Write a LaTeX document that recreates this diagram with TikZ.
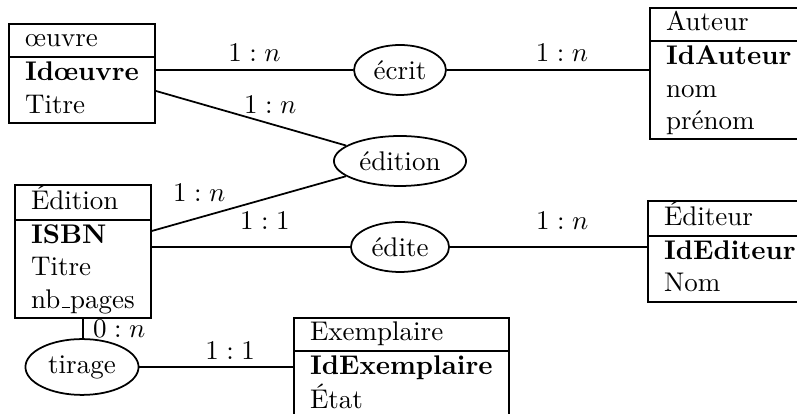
\documentclass[tikz,border=0pt]{standalone}
\usetikzlibrary{shapes.geometric,calc}
\setlength{\arrayrulewidth}{0.65pt}
\newcommand{\ulbar}{\leavevmode\kern.06em\vbox{\hrule width.3em}}
\begin{document}
\begin{tikzpicture}[x=0.37037pt,y=-0.37037pt, line width=0.65pt,
  entity/.style={draw, inner sep=0pt, anchor=north west},
  relation/.style={draw, ellipse, inner xsep=2.3pt, inner ysep=3pt},
  card/.style={inner sep=0pt}]
\useasboundingbox (0,0) rectangle (797,414);
\clip (0,0) rectangle (797,414);
% entities
\node[entity] (boeuvre) at (8,23) {\begin{tabular}{l}œuvre\\\hline\textbf{Idœuvre}\\Titre\end{tabular}};
\node[entity] (bauteur) at (649,7) {\begin{tabular}{l}Auteur\\\hline\textbf{IdAuteur}\\nom\\prénom\end{tabular}};
\node[entity] (bedition) at (14,184) {\begin{tabular}{l}Édition\\\hline\textbf{ISBN}\\Titre\\nb\ulbar pages\end{tabular}};
\node[entity] (bediteur) at (647,200) {\begin{tabular}{l}Éditeur\\\hline\textbf{IdEditeur}\\Nom\end{tabular}};
\node[entity] (bexemplaire) at (293,317) {\begin{tabular}{l}Exemplaire\\\hline\textbf{IdExemplaire}\\État\\ \end{tabular}};
% relations
\node[relation] (recrit) at (400,70) {écrit};
\node[relation] (redition) at (400,161) {édition};
\node[relation] (redite) at (400,247) {édite};
\node[relation] (rtirage) at (82,367) {tirage};
% connectors
\draw (boeuvre.east |- recrit.west) -- (recrit.west)
  node[card, midway, above=3pt] {$1:n$};
\draw (recrit.east) -- (recrit.east -| bauteur.west)
  node[card, pos=0.57, above=3pt] {$1:n$};
\draw ($(boeuvre.north east)+(0,68)$) -- (redition)
  node[card, pos=0.6, above=3.5pt] {$1:n$};
\draw ($(bedition.north east)+(0,47)$) -- (redition)
  node[card, pos=0.245, above=5.5pt] {$1:n$};
\draw (bedition.east |- redite.west) -- (redite.west)
  node[card, pos=0.57, above=6pt] {$1:1$};
\draw (redite.east) -- (redite.east -| bediteur.west)
  node[card, pos=0.57, above=6pt] {$1:n$};
\draw (bedition.south) -- (bedition.south |- rtirage.north)
  node[card, midway, anchor=west, xshift=3.5pt] {$0:n$};
\draw (rtirage.east) -- (rtirage.east -| bexemplaire.west)
  node[card, pos=0.59, above=2.6pt] {$1:1$};
\end{tikzpicture}
\end{document}
